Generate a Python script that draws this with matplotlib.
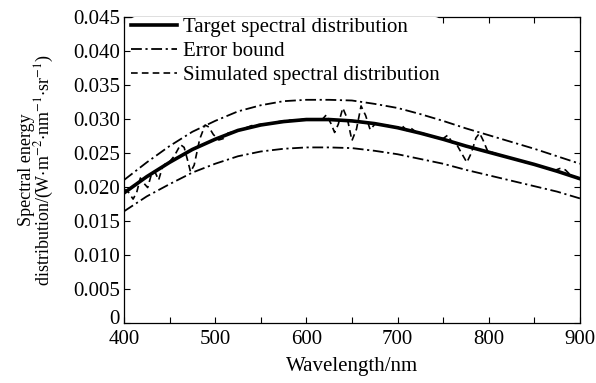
import numpy as np
import matplotlib
matplotlib.use("Agg")
import matplotlib.pyplot as plt
from matplotlib.ticker import FuncFormatter
from matplotlib.transforms import ScaledTranslation

plt.rcParams['font.family'] = ['Liberation Serif', 'DejaVu Serif']
plt.rcParams['mathtext.fontset'] = 'stix'

# target and error bounds, read every 25 nm
wl = [400, 425, 450, 475, 500, 525, 550, 575, 600, 625, 650,
      675, 700, 725, 750, 775, 800, 825, 850, 875, 900]
target = [0.0191, 0.0215, 0.0236, 0.0255, 0.0270, 0.0283, 0.0291, 0.0296, 0.0299, 0.0299, 0.0297,
          0.0293, 0.0287, 0.0279, 0.0270, 0.0260, 0.0251, 0.0242, 0.0233, 0.0223, 0.0212]
upper = [0.0210, 0.0236, 0.0260, 0.0281, 0.0297, 0.0311, 0.0320, 0.0326, 0.0328, 0.0328, 0.0327,
         0.0322, 0.0316, 0.0307, 0.0297, 0.0286, 0.0276, 0.0266, 0.0256, 0.0245, 0.0234]
lower = [0.0164, 0.0186, 0.0204, 0.0221, 0.0234, 0.0245, 0.0252, 0.0256, 0.0258, 0.0258, 0.0257,
         0.0253, 0.0248, 0.0241, 0.0234, 0.0225, 0.0217, 0.0209, 0.0201, 0.0193, 0.0183]

# simulated curve
sim_wl = [400, 405, 410, 414, 418, 422, 426, 430, 434, 438, 442, 446, 450, 455, 462, 466, 470,
          473, 477, 483, 489, 493, 498, 504, 509, 514, 520, 530, 540, 550, 560, 570, 580, 590,
          600, 610, 618, 622, 627, 631, 635, 640, 645, 650, 655, 660, 665, 670, 675, 680, 690,
          700, 705, 710, 715, 720, 730, 740, 750, 755, 760, 765, 770, 776, 781, 786, 790, 794,
          799, 803, 810, 820, 830, 840, 850, 860, 866, 872, 878, 884, 890, 895, 900]
sim = [0.0197, 0.0192, 0.0182, 0.0192, 0.0213, 0.0205, 0.0199, 0.0218, 0.0222, 0.0210, 0.0228,
       0.0235, 0.0237, 0.0245, 0.0262, 0.0258, 0.0238, 0.0222, 0.0232, 0.0270, 0.0291, 0.0288,
       0.0277, 0.0269, 0.0271, 0.0279, 0.0281, 0.0285, 0.0290, 0.0292, 0.0293, 0.0296, 0.0298,
       0.0298, 0.0300, 0.0299, 0.0300, 0.0306, 0.0293, 0.0280, 0.0292, 0.0316, 0.0300, 0.0268,
       0.0285, 0.0319, 0.0305, 0.0284, 0.0292, 0.0292, 0.0290, 0.0287, 0.0290, 0.0283, 0.0286,
       0.0281, 0.0278, 0.0273, 0.0271, 0.0276, 0.0265, 0.0262, 0.0250, 0.0236, 0.0250, 0.0272,
       0.0279, 0.0268, 0.0252, 0.0251, 0.0248, 0.0244, 0.0240, 0.0236, 0.0233, 0.0229, 0.0226,
       0.0224, 0.0227, 0.0225, 0.0217, 0.0214, 0.0211]

xticks = [400, 450, 500, 550, 600, 650, 700, 750, 800, 850, 900]
yticks = [0, 0.005, 0.010, 0.015, 0.020, 0.025, 0.030, 0.035, 0.040, 0.045]

fig = plt.figure(figsize=(5.96, 3.83), dpi=100)
ax = fig.add_axes([0.208, 0.157, 0.765, 0.799])

ax.plot(wl, target, color='black', lw=2.6, label='Target spectral distribution', zorder=3)
ax.plot(wl, upper, color='black', lw=1.3, ls=(0, (6, 2, 1.2, 2)), label='Error bound')
ax.plot(wl, lower, color='black', lw=1.3, ls=(0, (6, 2, 1.2, 2)))
ax.plot(sim_wl, sim, color='black', lw=1.2, ls=(0, (4, 2.5)), label='Simulated spectral distribution')

ax.set_xlim(400, 900)
ax.set_ylim(0, 0.045)
ax.set_xticks(xticks)
ax.set_yticks(yticks)
ax.xaxis.set_major_formatter(FuncFormatter(lambda v, p: '%d' % v if v % 100 == 0 else ''))
ax.yaxis.set_major_formatter(FuncFormatter(lambda v, p: '0' if abs(v) < 1e-9 else '%.3f' % v))
ax.tick_params(direction='in', top=True, right=True, length=4, width=0.8, labelsize=15)
ax.tick_params(axis='x', pad=5)
ax.tick_params(axis='y', pad=3)
for s in ax.spines.values():
    s.set_linewidth(0.9)

# the "0" sits a little above the corner, clear of "400"
zero_lbl = ax.yaxis.get_major_ticks()[0].label1
zero_lbl.set_transform(zero_lbl.get_transform() + ScaledTranslation(0, 4 / 72, fig.dpi_scale_trans))

ax.set_xlabel('Wavelength/nm', fontsize=15, labelpad=6)
ax.set_ylabel('Spectral energy\n'
              r'distribution/(W$\cdot$m$^{-2}$$\cdot$nm$^{-1}$$\cdot$sr$^{-1}$)',
              fontsize=13, labelpad=12, linespacing=0.9)

leg = ax.legend(loc='upper left', bbox_to_anchor=(0.015, 0.998), fontsize=15, frameon=True,
                framealpha=1, edgecolor='none', handlelength=2.2, handletextpad=0.3,
                labelspacing=0.22, borderaxespad=0.0, borderpad=0.0)
leg.get_frame().set_linewidth(0)

fig.savefig('out.png', dpi=100)
